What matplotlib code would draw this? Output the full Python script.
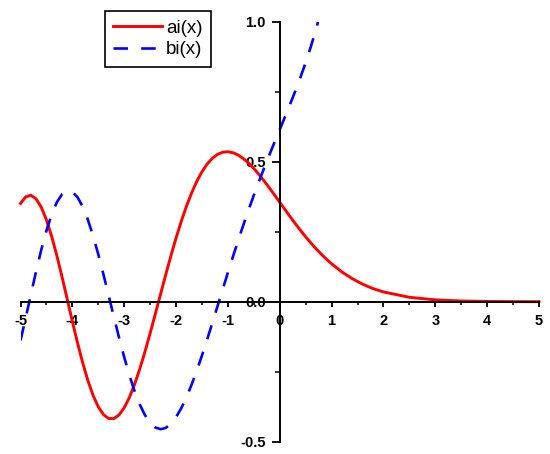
import matplotlib

matplotlib.use("Agg")
import matplotlib.pyplot as plt
from matplotlib.ticker import MultipleLocator


OUTPUT_PATH = "out.png"

X_NEG = [-5.0, -4.9, -4.8, -4.7, -4.6, -4.5, -4.4, -4.3, -4.2, -4.1,
         -4.0, -3.9, -3.8, -3.7, -3.6, -3.5, -3.4, -3.3, -3.2, -3.1,
         -3.0, -2.9, -2.8, -2.7, -2.6, -2.5, -2.4, -2.3, -2.2, -2.1,
         -2.0, -1.9, -1.8, -1.7, -1.6, -1.5, -1.4, -1.3, -1.2, -1.1,
         -1.0, -0.9, -0.8, -0.7, -0.6, -0.5, -0.4, -0.3, -0.2, -0.1, 0.0]
AI_NEG = [0.3508, 0.3745, 0.3800, 0.3674, 0.3375, 0.2922, 0.2337, 0.1650, 0.0892, 0.0097,
          -0.0703, -0.1474, -0.2189, -0.2820, -0.3348, -0.3755, -0.4032, -0.4172, -0.4175, -0.4044,
          -0.3788, -0.3420, -0.2952, -0.2402, -0.1787, -0.1126, -0.0436, 0.0264, 0.0958, 0.1635,
          0.2274, 0.2868, 0.3408, 0.3886, 0.4299, 0.4643, 0.4917, 0.5123, 0.5262, 0.5338,
          0.5356, 0.5320, 0.5236, 0.5110, 0.4949, 0.4757, 0.4542, 0.4309, 0.4063, 0.3809, 0.3550]
BI_NEG = [-0.1384, -0.0578, 0.0257, 0.1080, 0.1852, 0.2539, 0.3112, 0.3550, 0.3835, 0.3959,
          0.3922, 0.3729, 0.3391, 0.2924, 0.2349, 0.1690, 0.0971, 0.0220, -0.0539, -0.1280,
          -0.1982, -0.2626, -0.3193, -0.3671, -0.4051, -0.4325, -0.4493, -0.4553, -0.4509, -0.4359,
          -0.4123, -0.3805, -0.3414, -0.2962, -0.2460, -0.1918, -0.1347, -0.0758, -0.0158, 0.0443,
          0.1040, 0.1626, 0.2198, 0.2753, 0.3288, 0.3804, 0.4300, 0.4780, 0.5245, 0.5700, 0.6149]

# Lado positivo.
X_AI_POS = [0.1, 0.2, 0.3, 0.4, 0.5, 0.6, 0.7, 0.8, 0.9, 1.0,
            1.2, 1.4, 1.6, 1.8, 2.0, 2.5, 3.0, 3.5, 4.0, 4.5, 5.0]
AI_POS = [0.3292, 0.3037, 0.2788, 0.2547, 0.2317, 0.2098, 0.1892, 0.1699, 0.1519, 0.1353,
          0.1061, 0.0820, 0.0625, 0.0466, 0.0349, 0.0157, 0.0066, 0.0026, 0.0010, 0.0003, 0.0001]
X_BI_POS = [0.1, 0.2, 0.3, 0.4, 0.5, 0.6, 0.7, 0.8]
BI_POS = [0.6599, 0.7055, 0.7525, 0.8018, 0.8543, 0.9111, 0.9733, 1.0424]

LABELS = ["ai(x)", "bi(x)"]


def gerar_grafico() -> None:
    plt.rcParams["font.family"] = ["Liberation Sans", "DejaVu Sans"]
    plt.rcParams["axes.unicode_minus"] = False

    fig = plt.figure(figsize=(5.5, 4.54), dpi=100)
    ax = fig.add_axes([0.0373, 0.0271, 0.9427, 0.9251])

    x_ai = X_NEG + X_AI_POS
    y_ai = AI_NEG + AI_POS
    x_bi = X_NEG + X_BI_POS
    y_bi = BI_NEG + BI_POS

    ax.plot(x_ai, y_ai, color="#ff0000", linewidth=2.1, label=LABELS[0], clip_on=False)
    ax.plot(x_bi, y_bi, color="#0000ff", linewidth=1.9,
            linestyle=(0, (5.5, 5.0)), label=LABELS[1])

    ax.set_xlim(-5, 5)
    ax.set_ylim(-0.5, 1.0)

    # Eixos cruzando na origem, estilo Origin.
    ax.spines["left"].set_position(("data", 0))
    ax.spines["bottom"].set_position(("data", 0))
    ax.spines["top"].set_visible(False)
    ax.spines["right"].set_visible(False)
    for lado in ("left", "bottom"):
        ax.spines[lado].set_linewidth(1.4)

    ax.xaxis.set_major_locator(MultipleLocator(1))
    ax.xaxis.set_minor_locator(MultipleLocator(0.5))
    ax.yaxis.set_major_locator(MultipleLocator(0.5))
    ax.yaxis.set_minor_locator(MultipleLocator(0.25))
    ax.yaxis.set_major_formatter(lambda v, pos: f"{v:.1f}")

    ax.tick_params(axis="x", which="major", direction="out", length=3.8, width=1.3, pad=5)
    ax.tick_params(axis="x", which="minor", direction="out", length=2.2, width=1.1)
    ax.tick_params(axis="y", which="major", direction="out", length=6, width=1.3, pad=4)
    ax.tick_params(axis="y", which="minor", direction="out", length=3.5, width=1.1)

    for rotulo in ax.get_xticklabels() + ax.get_yticklabels():
        rotulo.set_fontweight("bold")
        rotulo.set_fontsize(10.5)

    legenda = ax.legend(
        loc="upper left",
        bbox_to_anchor=(0.163, 1.0255),
        borderaxespad=0,
        fontsize=13.5,
        frameon=True,
        fancybox=False,
        edgecolor="black",
        framealpha=1,
        handlelength=2.6,
        handletextpad=0.2,
        borderpad=0.45,
        labelspacing=0.25,
    )
    legenda.get_frame().set_linewidth(1.2)

    fig.savefig(OUTPUT_PATH, dpi=100)
    plt.close(fig)


def main() -> None:
    gerar_grafico()


if __name__ == "__main__":
    main()
